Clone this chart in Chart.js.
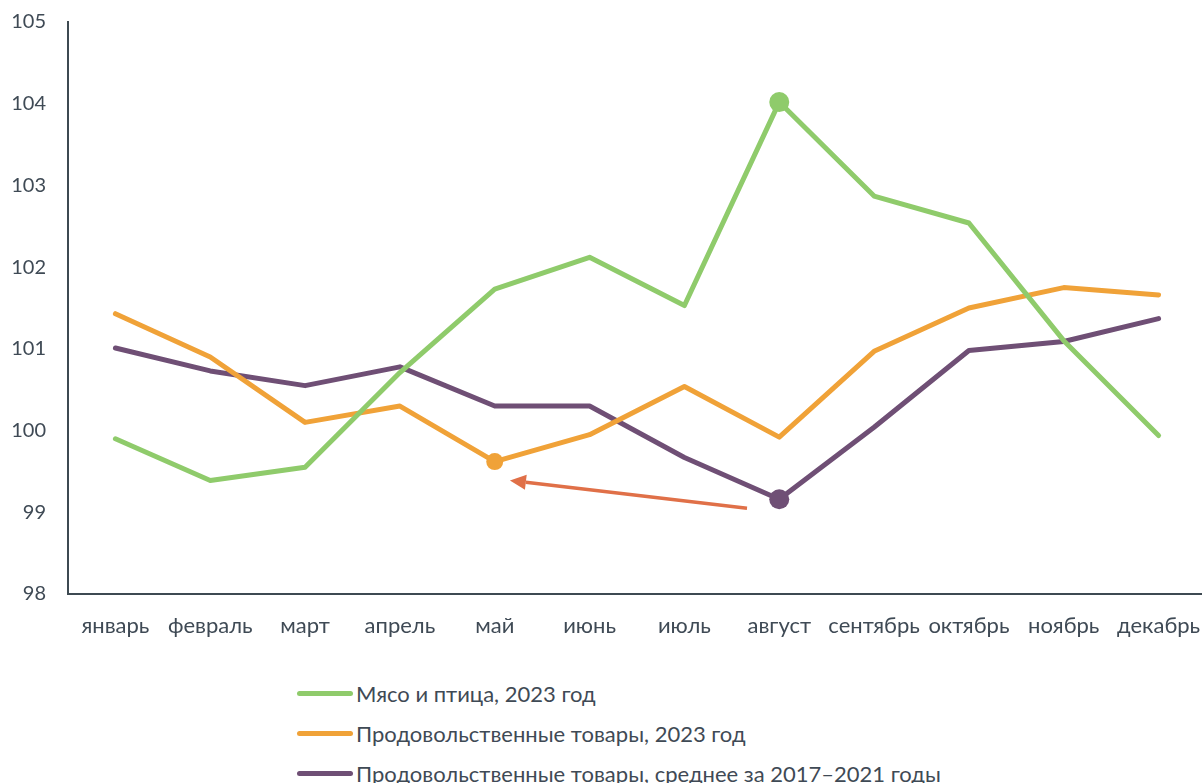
<!DOCTYPE html>
<html><head><meta charset="utf-8">
<script src="https://cdn.jsdelivr.net/npm/chart.js@4/dist/chart.umd.min.js"></script>
<style>
html,body{margin:0;padding:0;background:#fff;overflow:hidden;width:1202px;height:783px;}
#wrap{position:relative;width:1206px;height:660px;}
#legend{position:absolute;left:297px;top:673px;font-family:Lato,sans-serif;font-size:22px;color:#3f4a55;}
.li{display:flex;align-items:center;height:40px;}
.sw{width:56px;height:5px;border-radius:3px;margin-right:3px;}
</style></head>
<body>
<div id="wrap"><canvas id="c" width="1206" height="660"></canvas></div>
<div id="legend"></div>
<script>
const categories = ['январь','февраль','март','апрель','май','июнь','июль','август','сентябрь','октябрь','ноябрь','декабрь'];
const meatPoultry2023 = [99.90, 99.39, 99.55, 100.71, 101.73, 102.12, 101.53, 104.02, 102.87, 102.54, 101.10, 99.94];
const food2023 = [101.43, 100.90, 100.10, 100.30, 99.62, 99.95, 100.54, 99.92, 100.97, 101.50, 101.75, 101.66];
const foodAvg2017_2021 = [101.01, 100.73, 100.55, 100.78, 100.30, 100.30, 99.67, 99.16, 100.04, 100.98, 101.09, 101.37];
const seriesNames = ['Мясо и птица, 2023 год','Продовольственные товары, 2023 год','Продовольственные товары, среднее за 2017–2021 годы'];
const yTicks = [98, 99, 100, 101, 102, 103, 104, 105];
const arrowFrom = [6.66, 99.05];
const arrowTo = [4.16, 99.39];

const colors = ['#8fcb6b', '#f0a238', '#6f4f75'];
const markerIdx = [7, 4, 7];
const markerR = [10, 8.5, 10];
const textColor = '#3f4a55';
const xFont = {family: 'Lato, sans-serif', size: 22};
const yFont = {family: 'Lato, sans-serif', size: 20};

const arrowPlugin = {
  id: 'arrow',
  afterDatasetsDraw(chart) {
    const x = chart.scales.x, y = chart.scales.y, ctx = chart.ctx;
    const x1 = x.getPixelForValue(arrowFrom[0]), y1 = y.getPixelForValue(arrowFrom[1]);
    const x2 = x.getPixelForValue(arrowTo[0]), y2 = y.getPixelForValue(arrowTo[1]);
    const ang = Math.atan2(y2 - y1, x2 - x1);
    const hl = 16, hw = 7.5;
    const bx = x2 - hl * Math.cos(ang), by = y2 - hl * Math.sin(ang);
    ctx.save();
    ctx.strokeStyle = '#e07048'; ctx.fillStyle = '#e07048'; ctx.lineWidth = 3.5;
    ctx.beginPath(); ctx.moveTo(x1, y1); ctx.lineTo(bx, by); ctx.stroke();
    ctx.beginPath();
    ctx.moveTo(x2, y2);
    ctx.lineTo(bx + hw * Math.sin(ang), by - hw * Math.cos(ang));
    ctx.lineTo(bx - hw * Math.sin(ang), by + hw * Math.cos(ang));
    ctx.closePath(); ctx.fill();
    ctx.restore();
  }
};

const seriesData = [meatPoultry2023, food2023, foodAvg2017_2021];
const datasets = seriesData.map((d, i) => ({
  label: seriesNames[i],
  data: d,
  borderColor: colors[i],
  backgroundColor: colors[i],
  borderWidth: 5,
  tension: 0,
  borderJoinStyle: 'round',
  borderCapStyle: 'round',
  pointRadius: ctx => ctx.dataIndex === markerIdx[i] ? markerR[i] : 0,
  pointHoverRadius: ctx => ctx.dataIndex === markerIdx[i] ? markerR[i] : 0,
  pointBorderWidth: 0
}));

new Chart(document.getElementById('c'), {
  type: 'line',
  data: {labels: categories, datasets},
  plugins: [arrowPlugin],
  options: {
    responsive: false,
    animation: false,
    layout: {padding: {top: 22, right: 0, bottom: 0, left: 0}},
    plugins: {legend: {display: false}, tooltip: {enabled: false}},
    scales: {
      x: {
        offset: true,
        grid: {display: false, drawTicks: true, tickLength: 19, tickColor: 'rgba(0,0,0,0)'},
        border: {display: true, color: '#3e4a52', width: 2},
        ticks: {color: textColor, font: xFont, padding: 0, maxRotation: 0, autoSkip: false},
        afterFit(s) { s.height = 66; }
      },
      y: {
        min: 98, max: 105,
        afterBuildTicks(s) { s.ticks = yTicks.map(v => ({value: v})); },
        grid: {display: false, drawTicks: true, tickLength: 22, tickColor: 'rgba(0,0,0,0)'},
        border: {display: true, color: '#3e4a52', width: 2},
        ticks: {color: textColor, font: yFont, padding: 0},
        afterFit(s) { s.width = 68; }
      }
    }
  }
});

const lg = document.getElementById('legend');
seriesNames.forEach((n, i) => {
  const row = document.createElement('div'); row.className = 'li';
  const sw = document.createElement('div'); sw.className = 'sw'; sw.style.background = colors[i];
  const t = document.createElement('span'); t.textContent = n;
  row.appendChild(sw); row.appendChild(t); lg.appendChild(row);
});
</script>
</body></html>
